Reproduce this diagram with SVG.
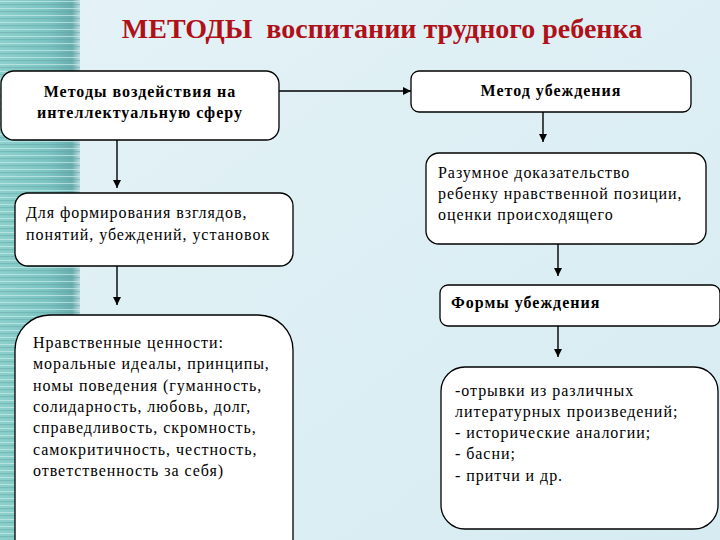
<svg xmlns="http://www.w3.org/2000/svg" width="720" height="540" viewBox="0 0 720 540">
<defs>
<linearGradient id="bg" x1="0" y1="0" x2="1" y2="1">
<stop offset="0" stop-color="#e4f2f6"/>
<stop offset="1" stop-color="#d6ecf2"/>
</linearGradient>
<linearGradient id="stripeg" x1="0" y1="0" x2="1" y2="0">
<stop offset="0" stop-color="#8cd0cc"/>
<stop offset="0.6" stop-color="#7cc4c2"/>
<stop offset="0.9" stop-color="#6aaeb0"/>
<stop offset="1" stop-color="#b8dcdf"/>
</linearGradient>
<pattern id="lines" x="0" y="0" width="80" height="7" patternUnits="userSpaceOnUse">
<rect x="0" y="0" width="80" height="7" fill="url(#stripeg)"/>
<rect x="0" y="1" width="80" height="1" fill="#c9ecea" opacity="0.7"/>
<rect x="0" y="4" width="80" height="1.2" fill="#5f9fa2" opacity="0.45"/>
</pattern>
<marker id="ah" viewBox="0 0 10 10" refX="10" refY="5" markerWidth="8" markerHeight="8" markerUnits="userSpaceOnUse" orient="auto">
<path d="M0,0 L10,5 L0,10 z" fill="#000"/>
</marker>
</defs>
<style>
.box{fill:#fff;stroke:#000;stroke-width:1.3}
.con{stroke:#000;stroke-width:1.4;fill:none;marker-end:url(#ah)}
.b{font-family:"Liberation Serif","Times New Roman",serif;font-weight:bold;font-size:16px;letter-spacing:1px;fill:#000}
.t{font-family:"Liberation Serif","Times New Roman",serif;font-size:16px;letter-spacing:0.95px;fill:#000}
.title{font-family:"Liberation Serif","Times New Roman",serif;font-weight:bold;font-size:28px;fill:#b01018}
</style>
<rect x="0" y="0" width="720" height="540" fill="url(#bg)"/>
<rect x="0" y="0" width="80" height="540" fill="url(#lines)"/>
<text class="title" x="382" y="38" text-anchor="middle" xml:space="preserve">МЕТОДЫ  воспитании трудного ребенка</text>
<g id="connectors">
<line class="con" x1="279" y1="91" x2="411" y2="91"/>
<line class="con" x1="543" y1="112" x2="543" y2="142"/>
<line class="con" x1="558" y1="244" x2="558" y2="276"/>
<line class="con" x1="558" y1="326" x2="558" y2="357"/>
<line class="con" x1="117" y1="140" x2="117" y2="188"/>
<line class="con" x1="117" y1="266" x2="117" y2="305"/>
</g>
<g id="n1">
<rect class="box" x="1" y="71" width="278" height="69" rx="13"/>
<text class="b" x="140" y="97" text-anchor="middle">Методы воздействия на</text>
<text class="b" x="140" y="118" text-anchor="middle">интеллектуальную сферу</text>
</g>
<g id="n2">
<rect class="box" x="411" y="71" width="280" height="41" rx="8"/>
<text class="b" x="551" y="96" text-anchor="middle">Метод убеждения</text>
</g>
<g id="n3">
<rect class="box" x="426" y="153" width="280" height="91" rx="13"/>
<text class="t" x="438" y="178">Разумное доказательство</text>
<text class="t" x="438" y="199">ребенку нравственной позиции,</text>
<text class="t" x="438" y="220">оценки происходящего</text>
</g>
<g id="n4">
<rect class="box" x="440" y="285" width="280" height="41" rx="8"/>
<text class="b" x="451" y="308">Формы убеждения</text>
</g>
<g id="n5">
<rect class="box" x="441" y="367" width="277" height="162" rx="24"/>
<text class="t" x="455" y="396">-отрывки из различных</text>
<text class="t" x="455" y="417">литературных произведений;</text>
<text class="t" x="455" y="438">- исторические аналогии;</text>
<text class="t" x="455" y="459">- басни;</text>
<text class="t" x="455" y="481">- притчи и др.</text>
</g>
<g id="n6">
<rect class="box" x="15" y="193" width="278" height="73" rx="13"/>
<text class="t" x="26" y="218">Для формирования взглядов,</text>
<text class="t" x="26" y="240">понятий, убеждений, установок</text>
</g>
<g id="n7">
<rect class="box" x="15" y="315" width="278" height="260" rx="35"/>
<text class="t" x="33" y="348">Нравственные ценности:</text>
<text class="t" x="33" y="369">моральные идеалы, принципы,</text>
<text class="t" x="33" y="391">номы поведения (гуманность,</text>
<text class="t" x="33" y="412">солидарность, любовь, долг,</text>
<text class="t" x="33" y="433">справедливость, скромность,</text>
<text class="t" x="33" y="455">самокритичность, честность,</text>
<text class="t" x="33" y="476">ответственность за себя)</text>
</g>
</svg>
